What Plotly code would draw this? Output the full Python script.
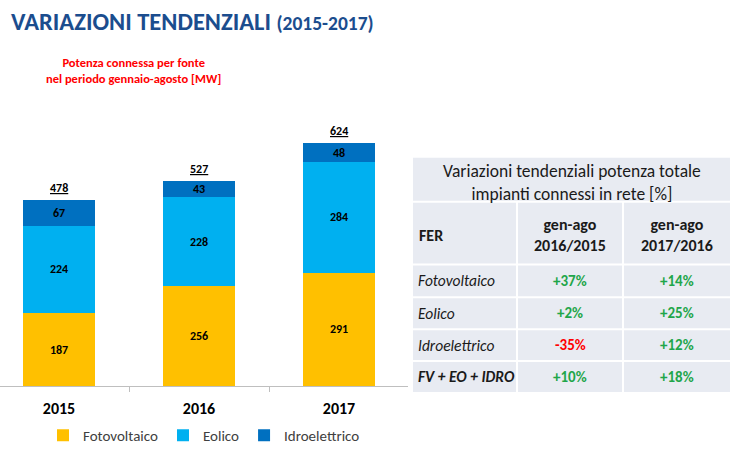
import plotly.graph_objects as go

# ---------------- data ----------------
years = ["2015", "2016", "2017"]
fotovoltaico = [187, 256, 291]
eolico = [224, 228, 284]
idroelettrico = [67, 43, 48]
totali = [478, 527, 624]

table_title = "Variazioni tendenziali potenza totale<br>impianti connessi in rete [%]"
table_header = ["FER", "gen-ago<br>2016/2015", "gen-ago<br>2017/2016"]
fonti = ["Fotovoltaico", "Eolico", "Idroelettrico", "FV + EO + IDRO"]
var_2016_2015 = ["+37%", "+2%", "-35%", "+10%"]
var_2017_2016 = ["+14%", "+25%", "+12%", "+18%"]

# ---------------- layout geometry (pixels) ----------------
W, H = 740, 452
PL, PR = 0, 408      # plot area left/right
PT, PB = 100, 387    # plot area top/bottom

def px(x):
    return (x - PL) / (PR - PL)

def py(y):
    return (PB - y) / (PB - PT)

FONT = "Carlito, Calibri, Lato, sans-serif"

C_FV, C_EO, C_ID = "#ffc000", "#00b0f0", "#0070c0"

fig = go.Figure()
for name, vals, col in [("Fotovoltaico", fotovoltaico, C_FV),
                        ("Eolico", eolico, C_EO),
                        ("Idroelettrico", idroelettrico, C_ID)]:
    fig.add_trace(go.Bar(
        x=years, y=vals, name=name, marker=dict(color=col, line=dict(width=0)),
        text=[str(v) for v in vals], textposition="inside", textangle=0,
        insidetextanchor="middle",
        textfont=dict(family=FONT, size=12, color="black", weight="bold"),
        hoverinfo="skip",
    ))

annotations = []
# totals above bars
for i, t in enumerate(totali):
    annotations.append(dict(x=i, y=t, xref="x", yref="y", text=f"<u>{t}</u>",
                            showarrow=False, xanchor="center", yanchor="bottom", yshift=3,
                            font=dict(family=FONT, size=12, color="black", weight="bold")))

# title
annotations.append(dict(
    x=px(9), y=py(22), xref="paper", yref="paper", xanchor="left", yanchor="middle",
    text="VARIAZIONI TENDENZIALI <span style='font-size:19.5px'>(2015-2017)</span>",
    showarrow=False, font=dict(family=FONT, size=24.5, color="#1b4d8e", weight="bold")))

# subtitle
annotations.append(dict(
    x=px(133), y=py(70), xref="paper", yref="paper", xanchor="center", yanchor="middle",
    text="Potenza connessa per fonte<br>nel periodo gennaio-agosto [MW]", align="center",
    showarrow=False, font=dict(family=FONT, size=12.5, color="#ff0000", weight="bold")))

shapes = []
# ---------------- table ----------------
TL, TR = 413, 730
col_x = [413, 517, 623, 730]
row_y = [158, 202, 265, 298, 330, 362, 393]
BG = "#e8ebf2"
shapes.append(dict(type="rect", xref="paper", yref="paper",
                   x0=px(TL), x1=px(TR), y0=py(row_y[0]), y1=py(row_y[-1]),
                   fillcolor=BG, line=dict(width=0), layer="above"))
for yy in row_y[1:-1]:
    shapes.append(dict(type="line", xref="paper", yref="paper",
                       x0=px(TL), x1=px(TR), y0=py(yy), y1=py(yy),
                       line=dict(color="white", width=2), layer="above"))
for xx in col_x[1:-1]:
    shapes.append(dict(type="line", xref="paper", yref="paper",
                       x0=px(xx), x1=px(xx), y0=py(row_y[1]), y1=py(row_y[-1]),
                       line=dict(color="white", width=2), layer="above"))

TXT = "#1a1a1a"
annotations.append(dict(x=px((TL + TR) / 2), y=py((row_y[0] + row_y[1]) / 2 + 3),
                        xref="paper", yref="paper", xanchor="center", yanchor="middle",
                        text=table_title, showarrow=False, align="center",
                        font=dict(family=FONT, size=17.5, color=TXT)))
hy = py((row_y[1] + row_y[2]) / 2 + 2)
annotations.append(dict(x=px(417), y=hy, xref="paper", yref="paper", xanchor="left",
                        yanchor="middle", text=table_header[0], showarrow=False,
                        font=dict(family=FONT, size=16, color=TXT, weight="bold")))
for i in (1, 2):
    annotations.append(dict(x=px((col_x[i] + col_x[i + 1]) / 2), y=hy, xref="paper", yref="paper",
                            xanchor="center", yanchor="middle",
                            text=table_header[i], showarrow=False, align="center",
                            font=dict(family=FONT, size=16, color=TXT, weight="bold")))

def vcol(v):
    return "#ff0000" if v.startswith("-") else "#1fa64a"

for r, (f, a, b) in enumerate(zip(fonti, var_2016_2015, var_2017_2016)):
    yc = py((row_y[r + 2] + row_y[r + 3]) / 2)
    last = r == len(fonti) - 1
    annotations.append(dict(x=px(416), y=yc, xref="paper", yref="paper", xanchor="left",
                            yanchor="middle", text=f"<i>{f}</i>", showarrow=False,
                            font=dict(family=FONT, size=15.5, color=TXT,
                                      weight="bold" if last else "normal")))
    for i, v in ((1, a), (2, b)):
        annotations.append(dict(x=px((col_x[i] + col_x[i + 1]) / 2), y=yc, xref="paper", yref="paper",
                                xanchor="center", yanchor="middle", text=v, showarrow=False,
                                font=dict(family=FONT, size=15, color=vcol(v), weight="bold")))

# x range so that category centers sit at 59, 199, 339 px
step = 140.0
x0 = -(59 - PL) / step
x1 = x0 + (PR - PL) / step

fig.update_layout(
    width=W, height=H, autosize=False,
    margin=dict(l=PL, r=W - PR, t=PT, b=H - PB, pad=0),
    paper_bgcolor="white", plot_bgcolor="white",
    barmode="stack", bargap=1 - 72 / 140,
    uniformtext=dict(minsize=11, mode="show"),
    showlegend=True,
    legend=dict(orientation="h", x=0.5, xanchor="center", y=py(437), yanchor="middle",
                font=dict(family=FONT, size=15, color="#404040"), itemwidth=30,
                traceorder="normal", bgcolor="rgba(0,0,0,0)"),
    xaxis=dict(type="category", range=[x0, x1], showline=True, linecolor="#bfbfbf", linewidth=1,
               ticks="outside", tickson="boundaries", ticklen=5, tickcolor="#bfbfbf",
               showgrid=False, zeroline=False,
               tickfont=dict(family=FONT, size=16, color="black", weight="bold"), ticklabelstandoff=8),
    yaxis=dict(range=[0, (PB - PT) / ((PB - 143) / 624)], visible=False, showgrid=False),
    annotations=annotations, shapes=shapes,
    font=dict(family=FONT),
)

fig.write_html("out.html", config={"displayModeBar": False},
               post_script="document.body.style.margin='0';document.body.style.overflow='hidden';")
